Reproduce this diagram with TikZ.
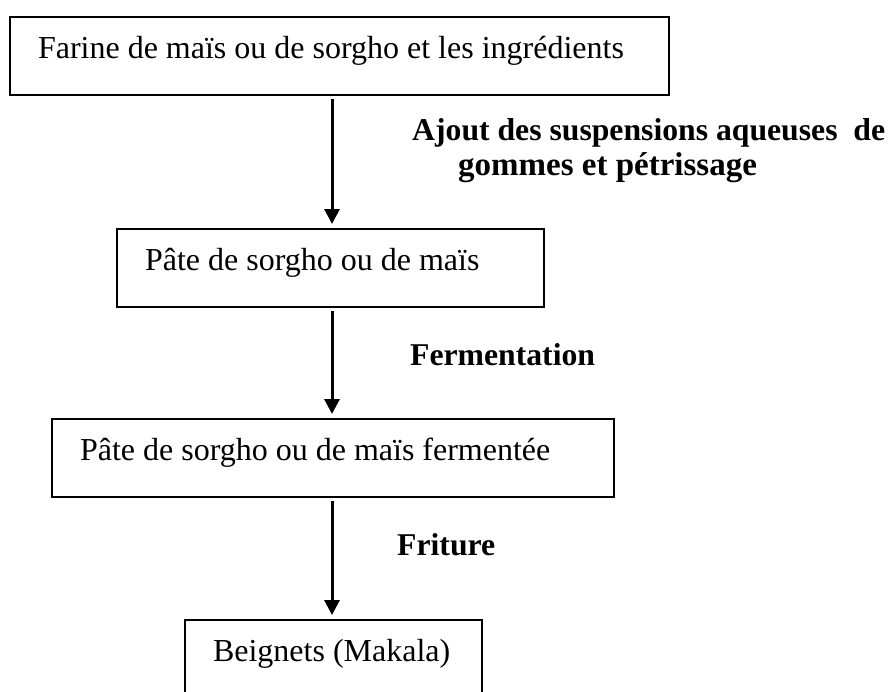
\documentclass[tikz,border=0pt]{standalone}
\usepackage{fontspec}
\setmainfont{Liberation Serif}
\usetikzlibrary{arrows.meta}
\begin{document}
\begin{tikzpicture}[x=1pt,y=-1pt,
  stepbox/.style={draw, line width=2pt, anchor=north west, inner xsep=28pt, inner ysep=0pt,
    minimum height=78pt, text height=20pt, text depth=16pt, font=\fontsize{32}{36}\selectfont},
  flow/.style={line width=3pt, -{Triangle[width=15pt,length=15pt]}, shorten <=3pt, shorten >=4pt},
  lbl/.style={anchor=base west, inner sep=0pt, font=\fontsize{31.7}{36}\selectfont\bfseries}]
\clip (0,0) rectangle (890,691);
\fill[white] (0,0) rectangle (890,691);
\node[stepbox, minimum width=659pt] (b1) at (9,16) {\makebox[603pt][l]{Farine de maïs ou de sorgho et les ingrédients}};
\node[stepbox, minimum width=427pt] (b2) at (116,228) {\makebox[371pt][l]{Pâte de sorgho ou de maïs}};
\node[stepbox, minimum width=562pt] (b3) at (51,418) {\makebox[506pt][l]{Pâte de sorgho ou de maïs fermentée}};
\node[stepbox, minimum width=297pt] (b4) at (184,619) {\makebox[241pt][l]{Beignets (Makala)}};
\coordinate (ax) at (332,0);
\draw[flow] (b1.south -| ax) -- (b2.north -| ax);
\draw[flow] (b2.south -| ax) -- (b3.north -| ax);
\draw[flow] (b3.south -| ax) -- (b4.north -| ax);
\node[lbl] (l1a) at (412,140) {Ajout des suspensions aqueuses\ \ de};
\node[lbl, font=\fontsize{33}{38}\selectfont\bfseries] (l1b) at (458,175) {gommes et pétrissage};
\node[lbl] (l2) at (410,365) {Fermentation};
\node[lbl] (l3) at (397,555) {Friture};
\end{tikzpicture}
\end{document}
